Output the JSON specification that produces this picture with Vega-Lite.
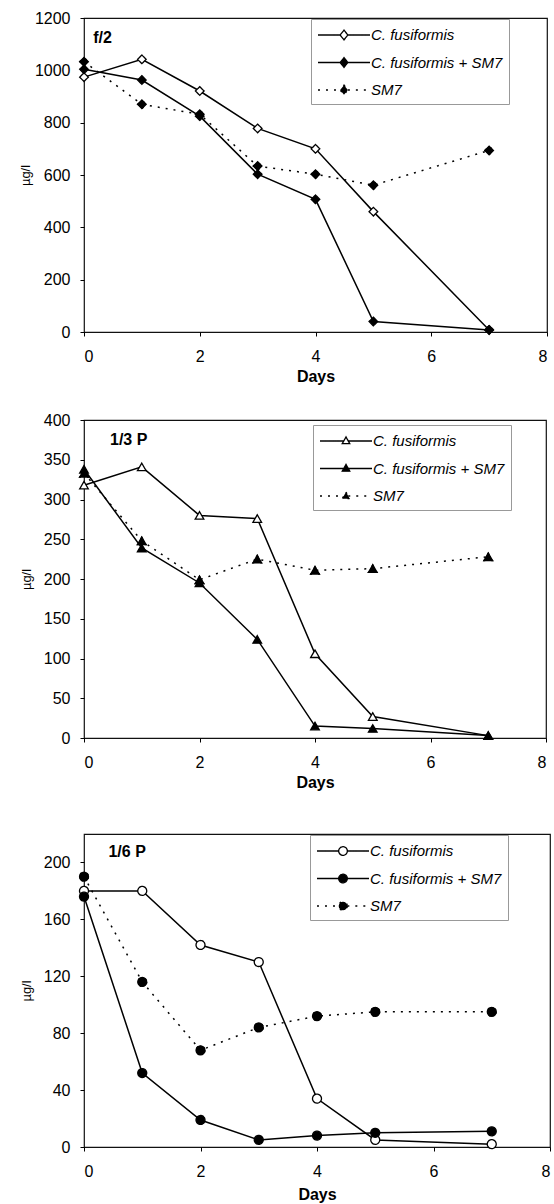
{
  "$schema": "https://vega.github.io/schema/vega-lite/v6.json",
  "padding": {"left": 18, "top": 9, "right": 4, "bottom": 0},
  "background": "white",
  "datasets": {
    "series": [
      {"panel": "f/2", "series": "C. fusiformis", "day": 0, "value": 974},
      {"panel": "f/2", "series": "C. fusiformis", "day": 1, "value": 1042},
      {"panel": "f/2", "series": "C. fusiformis", "day": 2, "value": 921},
      {"panel": "f/2", "series": "C. fusiformis", "day": 3, "value": 778},
      {"panel": "f/2", "series": "C. fusiformis", "day": 4, "value": 700},
      {"panel": "f/2", "series": "C. fusiformis", "day": 5, "value": 460},
      {"panel": "f/2", "series": "C. fusiformis", "day": 7, "value": 8},
      {"panel": "f/2", "series": "C. fusiformis + SM7", "day": 0, "value": 1004},
      {"panel": "f/2", "series": "C. fusiformis + SM7", "day": 1, "value": 963},
      {"panel": "f/2", "series": "C. fusiformis + SM7", "day": 2, "value": 825},
      {"panel": "f/2", "series": "C. fusiformis + SM7", "day": 3, "value": 603},
      {"panel": "f/2", "series": "C. fusiformis + SM7", "day": 4, "value": 507},
      {"panel": "f/2", "series": "C. fusiformis + SM7", "day": 5, "value": 40},
      {"panel": "f/2", "series": "C. fusiformis + SM7", "day": 7, "value": 8},
      {"panel": "f/2", "series": "SM7", "day": 0, "value": 1033},
      {"panel": "f/2", "series": "SM7", "day": 1, "value": 870},
      {"panel": "f/2", "series": "SM7", "day": 2, "value": 832},
      {"panel": "f/2", "series": "SM7", "day": 3, "value": 634},
      {"panel": "f/2", "series": "SM7", "day": 4, "value": 603},
      {"panel": "f/2", "series": "SM7", "day": 5, "value": 561},
      {"panel": "f/2", "series": "SM7", "day": 7, "value": 694},
      {"panel": "1/3 P", "series": "C. fusiformis", "day": 0, "value": 318},
      {"panel": "1/3 P", "series": "C. fusiformis", "day": 1, "value": 341},
      {"panel": "1/3 P", "series": "C. fusiformis", "day": 2, "value": 280},
      {"panel": "1/3 P", "series": "C. fusiformis", "day": 3, "value": 276},
      {"panel": "1/3 P", "series": "C. fusiformis", "day": 4, "value": 106},
      {"panel": "1/3 P", "series": "C. fusiformis", "day": 5, "value": 27},
      {"panel": "1/3 P", "series": "C. fusiformis", "day": 7, "value": 3},
      {"panel": "1/3 P", "series": "C. fusiformis + SM7", "day": 0, "value": 338},
      {"panel": "1/3 P", "series": "C. fusiformis + SM7", "day": 1, "value": 239},
      {"panel": "1/3 P", "series": "C. fusiformis + SM7", "day": 2, "value": 195},
      {"panel": "1/3 P", "series": "C. fusiformis + SM7", "day": 3, "value": 124},
      {"panel": "1/3 P", "series": "C. fusiformis + SM7", "day": 4, "value": 15},
      {"panel": "1/3 P", "series": "C. fusiformis + SM7", "day": 5, "value": 12},
      {"panel": "1/3 P", "series": "C. fusiformis + SM7", "day": 7, "value": 3},
      {"panel": "1/3 P", "series": "SM7", "day": 0, "value": 333},
      {"panel": "1/3 P", "series": "SM7", "day": 1, "value": 248},
      {"panel": "1/3 P", "series": "SM7", "day": 2, "value": 199},
      {"panel": "1/3 P", "series": "SM7", "day": 3, "value": 225},
      {"panel": "1/3 P", "series": "SM7", "day": 4, "value": 211},
      {"panel": "1/3 P", "series": "SM7", "day": 5, "value": 213},
      {"panel": "1/3 P", "series": "SM7", "day": 7, "value": 228},
      {"panel": "1/6 P", "series": "C. fusiformis", "day": 0, "value": 180},
      {"panel": "1/6 P", "series": "C. fusiformis", "day": 1, "value": 180},
      {"panel": "1/6 P", "series": "C. fusiformis", "day": 2, "value": 142},
      {"panel": "1/6 P", "series": "C. fusiformis", "day": 3, "value": 130},
      {"panel": "1/6 P", "series": "C. fusiformis", "day": 4, "value": 34},
      {"panel": "1/6 P", "series": "C. fusiformis", "day": 5, "value": 5},
      {"panel": "1/6 P", "series": "C. fusiformis", "day": 7, "value": 2},
      {"panel": "1/6 P", "series": "C. fusiformis + SM7", "day": 0, "value": 176},
      {"panel": "1/6 P", "series": "C. fusiformis + SM7", "day": 1, "value": 52},
      {"panel": "1/6 P", "series": "C. fusiformis + SM7", "day": 2, "value": 19},
      {"panel": "1/6 P", "series": "C. fusiformis + SM7", "day": 3, "value": 5},
      {"panel": "1/6 P", "series": "C. fusiformis + SM7", "day": 4, "value": 8},
      {"panel": "1/6 P", "series": "C. fusiformis + SM7", "day": 5, "value": 10},
      {"panel": "1/6 P", "series": "C. fusiformis + SM7", "day": 7, "value": 11},
      {"panel": "1/6 P", "series": "SM7", "day": 0, "value": 190},
      {"panel": "1/6 P", "series": "SM7", "day": 1, "value": 116},
      {"panel": "1/6 P", "series": "SM7", "day": 2, "value": 68},
      {"panel": "1/6 P", "series": "SM7", "day": 3, "value": 84},
      {"panel": "1/6 P", "series": "SM7", "day": 4, "value": 92},
      {"panel": "1/6 P", "series": "SM7", "day": 5, "value": 95},
      {"panel": "1/6 P", "series": "SM7", "day": 7, "value": 95}
    ],
    "labels": [
      {"panel": "f/2", "day": 0.16, "value": 1123, "label": "f/2"},
      {"panel": "1/3 P", "day": 0.45, "value": 375, "label": "1/3 P"},
      {"panel": "1/6 P", "day": 0.42, "value": 207, "label": "1/6 P"}
    ]
  },
  "vconcat": [
    {
      "width": 463,
      "height": 314,
      "encoding": {
        "x": {"field": "day", "type": "quantitative", "scale": {"domain": [0, 8], "nice": false}, "axis": {"values": [0, 2, 4, 6, 8], "format": "d", "title": "Days"}},
        "y": {"field": "value", "type": "quantitative", "scale": {"domain": [0, 1200], "nice": false}, "axis": {"values": [0, 200, 400, 600, 800, 1000, 1200], "format": "d", "title": "µg/l", "titlePadding": 2}}
      },
      "layer": [
        {
          "data": {"name": "series"},
          "transform": [{"filter": "datum.panel == 'f/2' && datum.series != 'SM7'"}],
          "mark": {"type": "line", "stroke": "black", "strokeWidth": 1.5},
          "encoding": {"detail": {"field": "series", "type": "nominal"}}
        },
        {
          "data": {"name": "series"},
          "transform": [{"filter": "datum.panel == 'f/2' && datum.series == 'SM7'"}],
          "mark": {"type": "line", "stroke": "black", "strokeWidth": 1.5, "strokeDash": [2, 6]},
          "encoding": {}
        },
        {
          "data": {"name": "series"},
          "transform": [{"filter": "datum.panel == 'f/2'"}],
          "mark": {"type": "point", "shape": "diamond", "filled": true, "size": 75, "stroke": "black", "strokeWidth": 1.3, "opacity": 1},
          "encoding": {
            "fill": {"field": "series", "type": "nominal", "scale": {"domain": ["C. fusiformis", "C. fusiformis + SM7", "SM7"], "range": ["white", "black", "black"]},
              "legend": {"orient": "none", "legendX": 227, "legendY": 1, "title": null, "symbolType": "M-2.89,0L-0.43,0M0.43,0L2.89,0M0,-0.54L0.43,0L0,0.54L-0.43,0Z", "symbolSize": 324, "symbolOffset": 17, "symbolStrokeColor": "black", "symbolStrokeWidth": 1.3, "labelFont": "Liberation Sans", "labelFontSize": 15, "labelFontStyle": "italic", "labelColor": "black", "labelOffset": 17, "strokeColor": "#999", "fillColor": "white", "padding": 6, "rowPadding": 9.5}},
            "strokeDash": {"field": "series", "type": "nominal", "scale": {"domain": ["C. fusiformis", "C. fusiformis + SM7", "SM7"], "range": [[1, 0], [1, 0], [2, 6]]},
              "legend": {"orient": "none", "legendX": 227, "legendY": 1, "title": null, "symbolType": "M-2.89,0L-0.43,0M0.43,0L2.89,0M0,-0.54L0.43,0L0,0.54L-0.43,0Z", "symbolSize": 324, "symbolOffset": 17, "symbolStrokeColor": "black", "symbolStrokeWidth": 1.3, "labelFont": "Liberation Sans", "labelFontSize": 15, "labelFontStyle": "italic", "labelColor": "black", "labelOffset": 17, "strokeColor": "#999", "fillColor": "white", "padding": 6, "rowPadding": 9.5}}
          }
        },
        {
          "data": {"name": "series"},
          "transform": [{"filter": "datum.panel == 'f/2' && datum.series == 'SM7'"}],
          "mark": {"type": "point", "shape": "diamond", "filled": true, "size": 75, "fill": "black", "stroke": "black", "strokeWidth": 1.3, "opacity": 1},
          "encoding": {}
        },
        {
          "data": {"name": "labels"},
          "transform": [{"filter": "datum.panel == 'f/2'"}],
          "mark": {"type": "text", "font": "Liberation Sans", "fontSize": 16, "fontWeight": "bold", "align": "left", "baseline": "middle", "color": "black"},
          "encoding": {"text": {"field": "label"}}
        }
      ]
    },
    {
      "width": 462,
      "height": 318,
      "encoding": {
        "x": {"field": "day", "type": "quantitative", "scale": {"domain": [0, 8], "nice": false}, "axis": {"values": [0, 2, 4, 6, 8], "format": "d", "title": "Days"}},
        "y": {"field": "value", "type": "quantitative", "scale": {"domain": [0, 400], "nice": false}, "axis": {"values": [0, 50, 100, 150, 200, 250, 300, 350, 400], "format": "d", "title": "µg/l", "titlePadding": 10}}
      },
      "layer": [
        {
          "data": {"name": "series"},
          "transform": [{"filter": "datum.panel == '1/3 P' && datum.series != 'SM7'"}],
          "mark": {"type": "line", "stroke": "black", "strokeWidth": 1.5},
          "encoding": {"detail": {"field": "series", "type": "nominal"}}
        },
        {
          "data": {"name": "series"},
          "transform": [{"filter": "datum.panel == '1/3 P' && datum.series == 'SM7'"}],
          "mark": {"type": "line", "stroke": "black", "strokeWidth": 1.5, "strokeDash": [2, 6]},
          "encoding": {}
        },
        {
          "data": {"name": "series"},
          "transform": [{"filter": "datum.panel == '1/3 P'"}],
          "mark": {"type": "point", "shape": "triangle-up", "filled": true, "size": 75, "stroke": "black", "strokeWidth": 1.3, "opacity": 1},
          "encoding": {
            "fill": {"field": "series", "type": "nominal", "scale": {"domain": ["C. fusiformis", "C. fusiformis + SM7", "SM7"], "range": ["white", "black", "black"]},
              "legend": {"orient": "none", "legendX": 229, "legendY": 5, "title": null, "symbolType": "M-2.89,0L-0.25,0M0.25,0L2.89,0M0,-0.45L0.42,0.3L-0.42,0.3Z", "symbolSize": 324, "symbolOffset": 17, "symbolStrokeColor": "black", "symbolStrokeWidth": 1.3, "labelFont": "Liberation Sans", "labelFontSize": 15, "labelFontStyle": "italic", "labelColor": "black", "labelOffset": 17, "strokeColor": "#999", "fillColor": "white", "padding": 6, "rowPadding": 9.5}},
            "strokeDash": {"field": "series", "type": "nominal", "scale": {"domain": ["C. fusiformis", "C. fusiformis + SM7", "SM7"], "range": [[1, 0], [1, 0], [2, 6]]},
              "legend": {"orient": "none", "legendX": 229, "legendY": 5, "title": null, "symbolType": "M-2.89,0L-0.25,0M0.25,0L2.89,0M0,-0.45L0.42,0.3L-0.42,0.3Z", "symbolSize": 324, "symbolOffset": 17, "symbolStrokeColor": "black", "symbolStrokeWidth": 1.3, "labelFont": "Liberation Sans", "labelFontSize": 15, "labelFontStyle": "italic", "labelColor": "black", "labelOffset": 17, "strokeColor": "#999", "fillColor": "white", "padding": 6, "rowPadding": 9.5}}
          }
        },
        {
          "data": {"name": "series"},
          "transform": [{"filter": "datum.panel == '1/3 P' && datum.series == 'SM7'"}],
          "mark": {"type": "point", "shape": "triangle-up", "filled": true, "size": 75, "fill": "black", "stroke": "black", "strokeWidth": 1.3, "opacity": 1},
          "encoding": {}
        },
        {
          "data": {"name": "labels"},
          "transform": [{"filter": "datum.panel == '1/3 P'"}],
          "mark": {"type": "text", "font": "Liberation Sans", "fontSize": 16, "fontWeight": "bold", "align": "left", "baseline": "middle", "color": "black"},
          "encoding": {"text": {"field": "label"}}
        }
      ]
    },
    {
      "width": 466,
      "height": 313,
      "title": {"text": " ", "fontSize": 10, "offset": 6},
      "encoding": {
        "x": {"field": "day", "type": "quantitative", "scale": {"domain": [0, 8], "nice": false}, "axis": {"values": [0, 2, 4, 6, 8], "format": "d", "title": "Days", "titlePadding": 7}},
        "y": {"field": "value", "type": "quantitative", "scale": {"domain": [0, 220], "nice": false}, "axis": {"values": [0, 40, 80, 120, 160, 200], "format": "d", "title": "µg/l", "titlePadding": 10}}
      },
      "layer": [
        {
          "data": {"name": "series"},
          "transform": [{"filter": "datum.panel == '1/6 P' && datum.series != 'SM7'"}],
          "mark": {"type": "line", "stroke": "black", "strokeWidth": 1.5},
          "encoding": {"detail": {"field": "series", "type": "nominal"}}
        },
        {
          "data": {"name": "series"},
          "transform": [{"filter": "datum.panel == '1/6 P' && datum.series == 'SM7'"}],
          "mark": {"type": "line", "stroke": "black", "strokeWidth": 1.5, "strokeDash": [2, 6]},
          "encoding": {}
        },
        {
          "data": {"name": "series"},
          "transform": [{"filter": "datum.panel == '1/6 P'"}],
          "mark": {"type": "point", "shape": "circle", "filled": true, "size": 80, "stroke": "black", "strokeWidth": 1.3, "opacity": 1},
          "encoding": {
            "fill": {"field": "series", "type": "nominal", "scale": {"domain": ["C. fusiformis", "C. fusiformis + SM7", "SM7"], "range": ["white", "black", "black"]},
              "legend": {"orient": "none", "legendX": 226, "legendY": 1, "title": null, "symbolType": "M-2.89,0L-0.48,0M0.48,0L2.89,0M0.48,0A0.48,0.48,0,1,1,-0.48,0A0.48,0.48,0,1,1,0.48,0Z", "symbolSize": 324, "symbolOffset": 17, "symbolStrokeColor": "black", "symbolStrokeWidth": 1.3, "labelFont": "Liberation Sans", "labelFontSize": 15, "labelFontStyle": "italic", "labelColor": "black", "labelOffset": 17, "strokeColor": "#999", "fillColor": "white", "padding": 6, "rowPadding": 9.5}},
            "strokeDash": {"field": "series", "type": "nominal", "scale": {"domain": ["C. fusiformis", "C. fusiformis + SM7", "SM7"], "range": [[1, 0], [1, 0], [2, 6]]},
              "legend": {"orient": "none", "legendX": 226, "legendY": 1, "title": null, "symbolType": "M-2.89,0L-0.48,0M0.48,0L2.89,0M0.48,0A0.48,0.48,0,1,1,-0.48,0A0.48,0.48,0,1,1,0.48,0Z", "symbolSize": 324, "symbolOffset": 17, "symbolStrokeColor": "black", "symbolStrokeWidth": 1.3, "labelFont": "Liberation Sans", "labelFontSize": 15, "labelFontStyle": "italic", "labelColor": "black", "labelOffset": 17, "strokeColor": "#999", "fillColor": "white", "padding": 6, "rowPadding": 9.5}}
          }
        },
        {
          "data": {"name": "series"},
          "transform": [{"filter": "datum.panel == '1/6 P' && datum.series == 'SM7'"}],
          "mark": {"type": "point", "shape": "circle", "filled": true, "size": 80, "fill": "black", "stroke": "black", "strokeWidth": 1.3, "opacity": 1},
          "encoding": {}
        },
        {
          "data": {"name": "labels"},
          "transform": [{"filter": "datum.panel == '1/6 P'"}],
          "mark": {"type": "text", "font": "Liberation Sans", "fontSize": 16, "fontWeight": "bold", "align": "left", "baseline": "middle", "color": "black"},
          "encoding": {"text": {"field": "label"}}
        }
      ]
    }
  ],
  "spacing": 26,
  "resolve": {
    "scale": {"fill": "independent", "strokeDash": "independent"},
    "legend": {"fill": "independent", "strokeDash": "independent"}
  },
  "config": {
    "view": {"stroke": "#111", "strokeWidth": 1.2},
    "axis": {"domain": false, "grid": false, "labelOverlap": false, "labelFont": "Liberation Sans", "labelFontSize": 16, "labelColor": "black", "tickColor": "black", "tickSize": 4, "titleFont": "Liberation Sans", "titleColor": "black"},
    "axisY": {"titleFontSize": 13, "titleFontWeight": "normal", "labelPadding": 10},
    "axisX": {"titleFontSize": 16, "titleFontWeight": "bold", "labelPadding": 12, "titlePadding": 4}
  }
}
